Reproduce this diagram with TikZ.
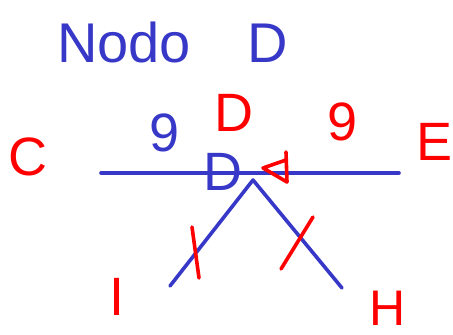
\documentclass[tikz,border=0pt]{standalone}
\usepackage{fontspec}
\setmainfont{Liberation Sans}
\usetikzlibrary{positioning}
\definecolor{ndblue}{HTML}{3838C8}
\definecolor{ndred}{HTML}{FF0000}
\tikzset{
  ndpen/.style={line width=3.6pt, line cap=round, line join=round},
  ndletter/.style={font=\fontsize{54}{54}\selectfont, inner sep=0pt},
  ndtitle/.style={anchor=base west, inner sep=0pt,
    font=\fontsize{56}{56}\selectfont, text=ndblue},
}
\begin{document}
\begin{tikzpicture}[x=1pt, y=-1pt]
\useasboundingbox (0, 0) rectangle (453, 335);

% Header.
\node[ndtitle] (title) at (57, 62) {Nodo\quad D};

% The node and its neighbours.
\coordinate (lineL) at (101, 173);
\coordinate (lineR) at (399, 173);
\coordinate (apex) at (253, 180);
\coordinate (legI) at (170, 286);
\coordinate (legH) at (342, 288);
\draw[ndpen, draw=ndblue] (lineL) -- (lineR);
\draw[ndpen, draw=ndblue] (legI) -- (apex) -- (legH);

\node[ndletter, text=ndred] (nodeC) at (28, 157) {C};
\node[ndletter, text=ndred] (nodeE) at (435, 142) {E};
\node[ndletter, text=ndred] (nodeI) at (117, 297) {I};
\node[ndletter, text=ndred, font=\fontsize{50}{50}\selectfont]
  (nodeH) at (388, 308) {H};
\node[ndletter, text=ndred] (nodeD) at (234, 113) {D};
\node[ndletter, text=ndblue] (wtC) at (165, 133) {9};
\node[ndletter, text=ndred] (wtE) at (343, 122) {9};
\node[ndletter, text=ndblue] (markD) at (223, 172) {D};

% Marks on the lines.
\coordinate (tipL) at (263, 168);
\coordinate (tipT) at (286, 152);
\coordinate (tipB) at (287, 182);
\draw[ndpen, draw=ndred] (tipT) -- (tipB) -- (tipL) -- (286, 160);
\coordinate (cutIa) at (192, 227);
\coordinate (cutIb) at (199, 278);
\coordinate (cutHa) at (313, 217);
\coordinate (cutHb) at (281, 269);
\draw[ndpen, draw=ndred] (cutIa) -- (cutIb);
\draw[ndpen, draw=ndred] (cutHa) -- (cutHb);

\end{tikzpicture}
\end{document}
